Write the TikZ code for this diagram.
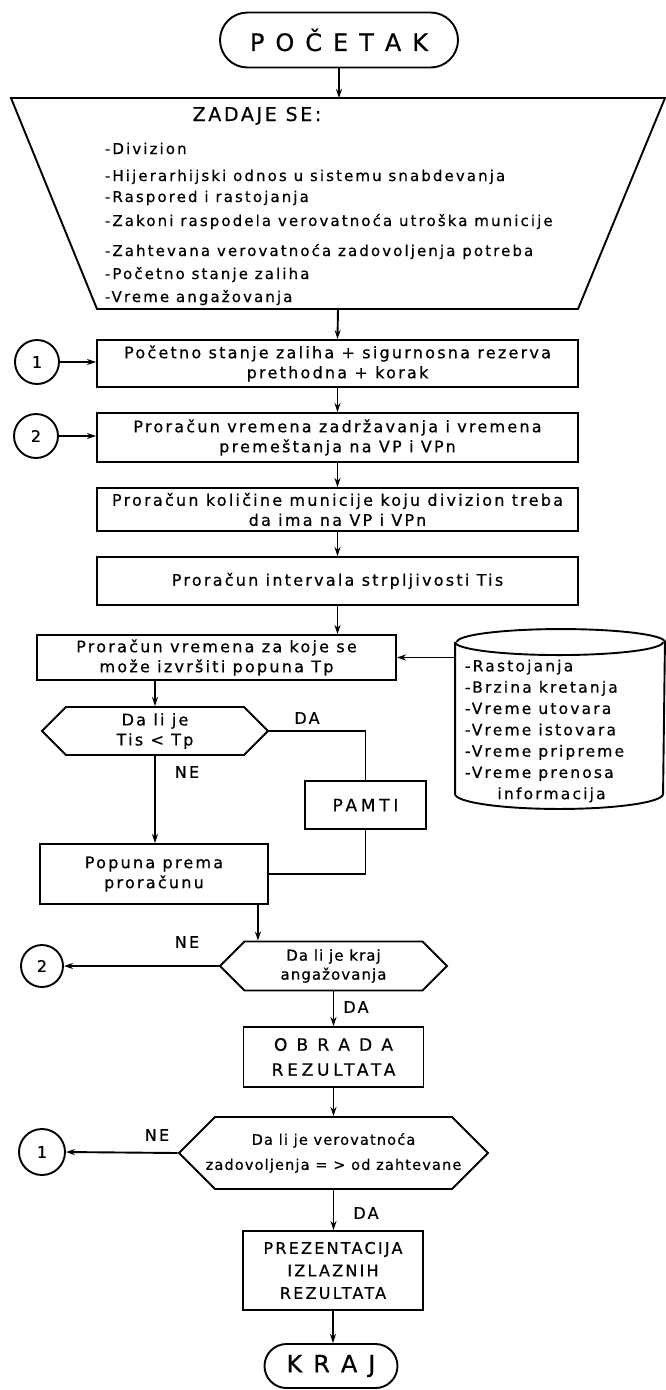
\documentclass[tikz,border=0pt]{standalone}
\usepackage{fontspec}
\setmainfont{DejaVu Sans}[LetterSpace=14, FakeBold=0.6]
\usetikzlibrary{arrows.meta,shapes.misc,shapes.symbols}

\tikzset{
    blok/.style={draw, rectangle, align=center, inner sep=2pt},
    terminal/.style={draw, rounded rectangle, inner sep=2pt, font=\fontsize{24}{28}\selectfont},
    odluka/.style={draw, signal, signal to=west and east, signal pointer angle=90, align=center, inner sep=1pt},
    krug/.style={draw, circle, minimum size=44pt, inner sep=0pt},
    tok/.style={-{Stealth[length=9pt,width=6pt]}},
    razmak/.style={font=\fontsize{17}{25}\selectfont\addfontfeature{LetterSpace=22}},
    natpis/.style={inner sep=0pt, text height=11pt, text depth=3pt}
}

\begin{document}
\begin{tikzpicture}[x=1pt, y=-1pt, line width=1.9pt, every node/.style={font=\fontsize{16}{20}\selectfont}]
            \useasboundingbox (0,0) rectangle (665,1390);
            \node[terminal, minimum width=242pt, minimum height=55pt] (start) at (339,40) {P O Č E T A K};
            \coordinate (zgore) at (339,98);
            \coordinate (zdole) at (338,309);
            \draw (11,98) -- (665,98) -- (578,309) -- (97,309) -- cycle;
            \node[natpis, font=\fontsize{19}{22}\selectfont] (zadaje) at (257,117) {ZADAJE SE:};
            \foreach \yy/\tekst [count=\i] in {150/Divizion, 177/Hijerarhijski odnos u sistemu snabdevanja,
                198/Raspored i rastojanja, 222/Zakoni raspodela verovatnoća utroška municije,
                252/Zahtevana verovatnoća zadovoljenja potreba, 275/Početno stanje zaliha, 298/Vreme angažovanja}
                \node[natpis, anchor=west, font=\fontsize{15}{18}\selectfont] (z\i) at (104,\yy) {-\tekst};

            \node[blok, minimum width=481pt, minimum height=47pt] (b1) at (337.5,363.5) {Početno stanje zaliha + sigurnosna rezerva\\prethodna + korak};
            \node[blok, minimum width=481pt, minimum height=49pt] (b2) at (337.5,437.5) {Proračun vremena zadržavanja i vremena\\premeštanja na VP i VPn};
            \node[blok, minimum width=481pt, minimum height=43pt] (b3) at (337.5,509.5) {Proračun količine municije koju divizion treba\\da ima na VP i VPn};
            \node[blok, minimum width=481pt, minimum height=48pt] (b4) at (337.5,581) {Proračun intervala strpljivosti Tis};
            \node[blok, minimum width=359pt, minimum height=45pt] (b5) at (216.5,657.5) {Proračun vremena za koje se\\može izvršiti popuna Tp};
            \node[krug] (k1) at (37,362) {1};
            \node[krug] (k2) at (36,436) {2};

            \node[minimum width=208pt, minimum height=150pt, inner sep=0pt] (baza) at (560,718) {};
            \draw (baza.north west) -- (baza.south west) arc[start angle=180, end angle=360, x radius=104pt, y radius=15pt]
                -- (baza.north east) arc[start angle=0, end angle=180, x radius=104pt, y radius=13pt];
            \draw (baza.north west) arc[start angle=180, end angle=360, x radius=104pt, y radius=13pt];
            \node[anchor=west, align=left, inner sep=0pt, font=\fontsize{15.5}{21.3}\selectfont] (podaci) at (464,731)
                {-Rastojanja\\-Brzina kretanja\\-Vreme utovara\\-Vreme istovara\\-Vreme pripreme\\-Vreme prenosa\\\hspace*{2.1em}informacija};

            \node[odluka, minimum width=226pt, minimum height=48pt] (d1) at (155,731) {Da li je\\Tis < Tp};
            \node[blok, razmak, minimum width=121pt, minimum height=48pt] (pamti) at (365.5,805) {PAMTI};
            \node[blok, minimum width=228pt, minimum height=60pt] (pop) at (154,874) {Popuna prema\\proračunu};
            \node[odluka, minimum width=227pt, minimum height=49pt, font=\fontsize{15}{19}\selectfont\addfontfeature{LetterSpace=7}] (d2) at (333.5,966) {Da li je kraj\\angažovanja};
            \node[krug, minimum size=42pt] (k2b) at (42,966) {2};
            \node[blok, razmak, minimum width=180pt, minimum height=60pt] (obr) at (333.5,1057) {O B R A D A\\REZULTATA};
            \node[odluka, minimum width=309pt, minimum height=72pt, inner xsep=-12pt, font=\fontsize{14.5}{25}\selectfont\addfontfeature{LetterSpace=8}] (d3) at (333.5,1153) {Da li je verovatnoća\\zadovoljenja = > od zahtevane};
            \node[krug, minimum size=46pt] (k1b) at (42,1152) {1};
            \node[blok, minimum width=180pt, minimum height=79pt, font=\fontsize{16}{22.5}\selectfont] (prez) at (333,1270.5) {PREZENTACIJA\\IZLAZNIH\\REZULTATA};
            \node[terminal, minimum width=137pt, minimum height=44pt] (kraj) at (331,1366) {K R A J};

            \node (da1) at (307,718) {DA};
            \node (ne1) at (187,772) {NE};
            \node (ne2) at (187,942) {NE};
            \node (da2) at (356,1007) {DA};
            \node (ne3) at (157,1135) {NE};
            \node (da3) at (366,1213) {DA};

            \draw[tok] (start.south) -- (zgore);
            \draw[tok] (zdole) -- (b1.north);
            \draw[tok] (k1.east) -- (k1.east -| b1.west);
            \draw[tok] (k2.east) -- (k2.east -| b2.west);
            \draw[tok] (b1.south) -- (b2.north);
            \draw[tok] (b2.south) -- (b3.north);
            \draw[tok] (b3.south) -- (b4.north);
            \draw[tok] (b4.south) -- (b4.south |- b5.north);
            \draw[tok] (baza.west |- b5.east) -- (b5.east);
            \draw[tok] (b5.south -| d1.north) -- (d1.north);
            \draw (d1.east) -| (pamti.north);
            \draw[tok] (d1.south) -- (d1.south |- pop.north);
            \draw (pamti.south) |- (pop.east);
            \coordinate (pd) at ([xshift=-11pt]pop.south east);
            \draw[tok] (pd) -- (pd |- d2.north);
            \draw[tok] (d2.west) -- (k2b.east);
            \draw[tok] (d2.south) -- (d2.south |- obr.north);
            \draw[tok] (obr.south) -- (obr.south |- d3.north);
            \draw[tok] (d3.west) -- (k1b.east);
            \draw[tok] (d3.south) -- (d3.south |- prez.north);
            \draw[tok] (prez.south) -- (prez.south |- kraj.north);
        \end{tikzpicture}
\end{document}
